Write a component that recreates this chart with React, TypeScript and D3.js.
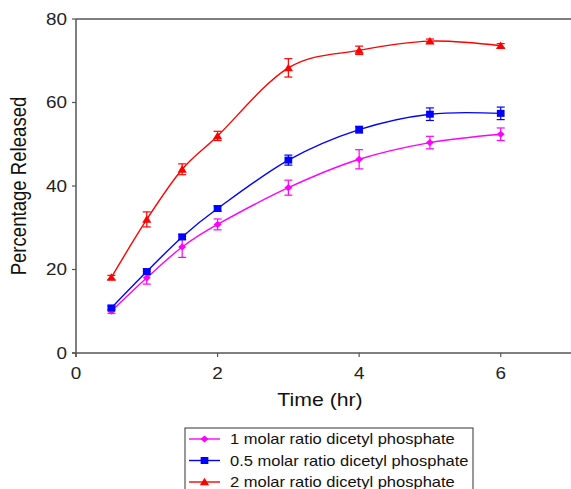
import React from "react";
import * as d3 from "d3";

const times = [0.5, 1, 1.5, 2, 3, 4, 5, 6];
const seriesNames = [
  "1 molar ratio dicetyl phosphate",
  "0.5 molar ratio dicetyl phosphate",
  "2 molar ratio dicetyl phosphate",
];
const seriesColors = ["#ff00ff", "#0000ff", "#ff0000"];
const seriesMarkers = ["diamond", "square", "triangle"];
const magentaValues = [10.0, 18.0, 25.4, 30.8, 39.6, 46.4, 50.4, 52.4];
const magentaErrors = [0.5, 1.5, 2.5, 1.3, 1.8, 2.3, 1.5, 1.5];
const blueValues = [10.8, 19.5, 27.8, 34.6, 46.2, 53.5, 57.2, 57.4];
const blueErrors = [0.5, 0.6, 0.6, 0.6, 1.2, 0.8, 1.5, 1.5];
const redValues = [18.1, 32.0, 44.0, 52.0, 68.3, 72.5, 74.7, 73.6];
const redErrors = [0.5, 1.8, 1.3, 1.1, 2.2, 1.0, 0.5, 0.5];
const xTicks = [0, 2, 4, 6];
const yTicks = [0, 20, 40, 60, 80];

const seriesValues = [magentaValues, blueValues, redValues];
const seriesErrors = [magentaErrors, blueErrors, redErrors];

const SX = 1.18;

function Marker({ type, x, y, color }: { type: string; x: number; y: number; color: string }) {
  if (type === "diamond") {
    const s = 3.6;
    return <path d={`M${x},${y - s}L${x + s * 1.1},${y}L${x},${y + s}L${x - s * 1.1},${y}Z`} fill={color} />;
  }
  if (type === "square") {
    const s = 3.5;
    return <rect x={x - s * 1.1} y={y - s} width={2.2 * s} height={2 * s} fill={color} />;
  }
  const s = 4.2;
  return <path d={`M${x},${y - s}L${x + s * 1.1},${y + s * 0.8}L${x - s * 1.1},${y + s * 0.8}Z`} fill={color} />;
}

export default function App() {
  const W = 571;
  const H = 489;
  const x = d3.scaleLinear().domain([0, 7]).range([76, 571.5]);
  const y = d3.scaleLinear().domain([0, 80]).range([353, 19]);
  const line = d3
    .line<[number, number]>()
    .x((d) => x(d[0]))
    .y((d) => y(d[1]))
    .curve(d3.curveCardinal.tension(0));
  const axisColor = "#555";
  const font = "'Liberation Sans', Arial, sans-serif";

  return (
    <svg width={W} height={H} style={{ position: "absolute", left: 0, top: 0, background: "#fff" }} fontFamily={font}>
      <rect x={0} y={0} width={W} height={H} fill="#fff" />
      {/* top border */}
      <line x1={x(0)} x2={W} y1={y(80)} y2={y(80)} stroke={axisColor} strokeWidth={1.5} />
      {/* axes */}
      <line x1={x(0)} x2={x(0)} y1={y(80)} y2={y(0) + 4} stroke={axisColor} strokeWidth={1.5} />
      <line x1={x(0) - 4} x2={W} y1={y(0)} y2={y(0)} stroke={axisColor} strokeWidth={1.5} />
      {yTicks.map((t) => (
        <g key={`y${t}`}>
          <line x1={x(0) - 4} x2={x(0)} y1={y(t)} y2={y(t)} stroke={axisColor} strokeWidth={1.2} />
          <text
            transform={`translate(${x(0) - 9},${y(t)}) scale(${SX},1)`}
            dy="0.36em"
            textAnchor="end"
            fontSize={16}
            fill="#222"
          >
            {t}
          </text>
        </g>
      ))}
      {xTicks.map((t) => (
        <g key={`x${t}`}>
          <line x1={x(t)} x2={x(t)} y1={y(0)} y2={y(0) + 4} stroke={axisColor} strokeWidth={1.2} />
          <text
            transform={`translate(${x(t)},${y(0) + 20}) scale(${SX},1)`}
            dy="0.36em"
            textAnchor="middle"
            fontSize={16}
            fill="#222"
          >
            {t}
          </text>
        </g>
      ))}
      <text
        transform={`translate(320,400) scale(${SX},1)`}
        dy="0.36em"
        textAnchor="middle"
        fontSize={18}
        fill="#111"
      >
        Time (hr)
      </text>
      <text
        transform={`translate(18,${y(40)}) rotate(-90) scale(1,${SX})`}
        textAnchor="middle"
        dy="0.36em"
        fontSize={18.6}
        fill="#111"
      >
        Percentage Released
      </text>
      {/* series */}
      {seriesValues.map((vals, si) => {
        const pts: [number, number][] = times.map((t, i) => [t, vals[i]]);
        const color = seriesColors[si];
        return (
          <g key={`s${si}`}>
            <path d={line(pts) || ""} fill="none" stroke={color} strokeWidth={1.4} />
            {times.map((t, i) => {
              const e = seriesErrors[si][i];
              const cx = x(t);
              const y1 = y(vals[i] + e);
              const y2 = y(vals[i] - e);
              return (
                <g key={i} stroke={color} strokeWidth={1.2}>
                  <line x1={cx} x2={cx} y1={y1} y2={y2} />
                  <line x1={cx - 4} x2={cx + 4} y1={y1} y2={y1} />
                  <line x1={cx - 4} x2={cx + 4} y1={y2} y2={y2} />
                </g>
              );
            })}
            {times.map((t, i) => (
              <Marker key={`m${i}`} type={seriesMarkers[si]} x={x(t)} y={y(vals[i])} color={color} />
            ))}
          </g>
        );
      })}
      {/* legend */}
      <rect x={185} y={428} width={288} height={70} fill="#fff" stroke="#333" strokeWidth={1} />
      {seriesNames.map((name, i) => {
        const ly = 439 + i * 21.5;
        return (
          <g key={`l${i}`}>
            <line x1={189} x2={220} y1={ly} y2={ly} stroke={seriesColors[i]} strokeWidth={1.4} />
            <Marker type={seriesMarkers[i]} x={204.5} y={ly} color={seriesColors[i]} />
            <text
              transform={`translate(230,${ly}) scale(${SX},1)`}
              dy="0.36em"
              fontSize={14}
              fill="#111"
            >
              {name}
            </text>
          </g>
        );
      })}
    </svg>
  );
}
